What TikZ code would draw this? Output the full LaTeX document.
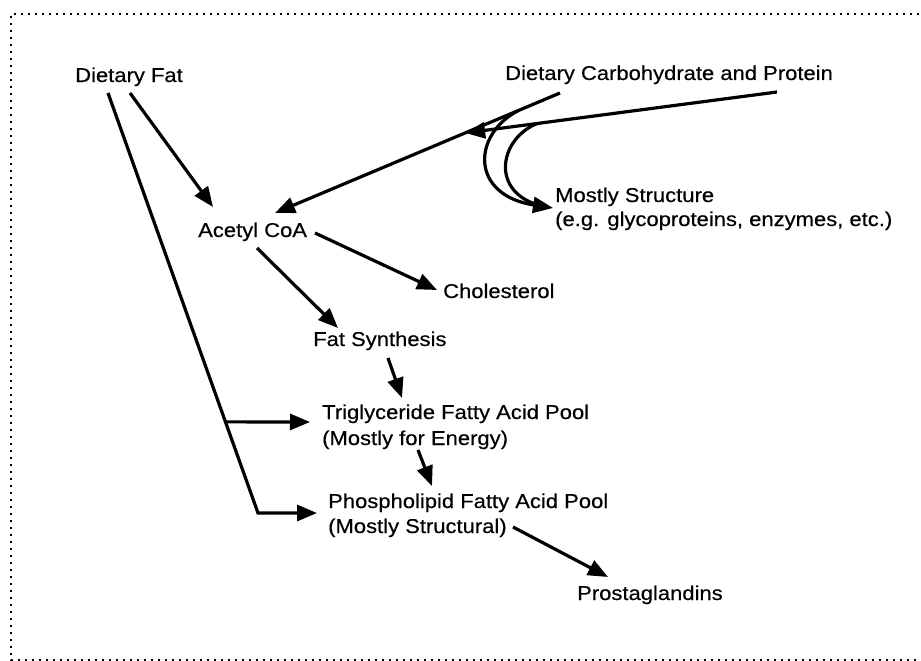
\documentclass[tikz,border=0pt]{standalone}
\usepackage{fontspec}
\setmainfont{Liberation Sans}[FakeStretch=1.1,FakeBold=0.4]
\usetikzlibrary{arrows.meta,calc}
\begin{document}
\begin{tikzpicture}[x=1pt,y=-1pt,
  lbl/.style={anchor=base west, inner sep=0pt, font=\fontsize{20}{24}\selectfont},
  ln/.style={line width=3.2pt},
  arr/.style={ln, -{Triangle[length=20pt,width=16pt]}},
  frame/.style={line width=2.2pt, dash pattern=on 2.2pt off 4.8pt}]
\useasboundingbox (0,0) rectangle (921,661);
% dotted frame (right side cut off)
\draw[frame] (919,14) -- (11,14) -- (11,660) -- (919,660);
% labels
\node[lbl] (fat) at (75,82) {Dietary Fat};
\node[lbl] (carb) at (505,80) {Dietary Carbohydrate and Protein};
\node[lbl] (struct) at (555,202) {Mostly Structure};
\node[lbl] (struct2) at (555,226) {(e.g. glycoproteins, enzymes, etc.)};
\node[lbl] (acetyl) at (198,237) {Acetyl CoA};
\node[lbl] (chol) at (443,298) {Cholesterol};
\node[lbl] (fatsyn) at (313,346) {Fat Synthesis};
\node[lbl] (trig) at (322,419) {Triglyceride Fatty Acid Pool};
\node[lbl] (trig2) at (322,445) {(Mostly for Energy)};
\node[lbl] (phos) at (328,508) {Phospholipid Fatty Acid Pool};
\node[lbl] (phos2) at (328,533) {(Mostly Structural)};
\node[lbl] (prost) at (577,600) {Prostaglandins};
% carbohydrate and protein
\coordinate (cA) at ($(carb.base west)+(55,13)$);
\coordinate (cB) at ($(carb.base west)+(272,12)$);
\coordinate (aIn) at ($(acetyl.base west)+(77,-24)$);
\coordinate (jn) at ($(cA)!0.333!(aIn)$);
\draw[arr] (cA) -- (aIn);
\draw[arr] (cB) -- (jn);
\coordinate (oS) at ($(cA)!0.147!(aIn)$);
\coordinate (iS) at ($(cB)!0.769!(jn)$);
\draw[arr] (oS) .. controls ($(struct.base west)+(-83,-67)$) and ($(struct.base west)+(-85,-7)$) .. ($(struct.base west)+(-2,6)$);
\draw[ln] (iS) .. controls ($(struct.base west)+(-54,-64)$) and ($(struct.base west)+(-65,-14)$) .. ($(struct.base west)+(-20,2)$);
% dietary fat
\draw[arr] ($(fat.base west)+(55,11)$) -- ($(acetyl.base west)+(15,-30)$);
\coordinate (fS) at ($(fat.base west)+(33,11)$);
\coordinate (fC) at ($(phos.base west)+(-70,5)$);
\coordinate (fJ) at ($(fS)!0.783!(fC)$);
\draw[arr] (fS) -- (fC) -- ($(phos.base west)+(-11,5)$);
\draw[arr] (fJ) -- ($(trig.base west)+(-12,3)$);
% acetyl CoA
\draw[arr] ($(acetyl.base west)+(117,-4)$) -- ($(chol.base west)+(-6,-8)$);
\draw[arr] ($(acetyl.base west)+(59,11)$) -- ($(fatsyn.base west)+(25,-18)$);
% pools
\draw[arr] ($(fatsyn.base west)+(75,12)$) -- ($(trig.base west)+(80,-21)$);
\draw[arr] ($(trig2.base west)+(96,5)$) -- ($(phos.base west)+(104,-22)$);
\draw[arr] ($(phos2.base west)+(185,-6)$) -- ($(prost.base west)+(31,-23)$);
\end{tikzpicture}
\end{document}
